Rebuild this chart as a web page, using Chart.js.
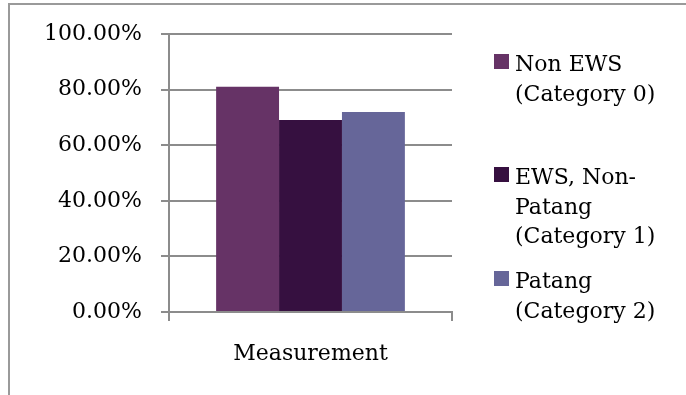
<!DOCTYPE html>
<html>
<head>
<meta charset="utf-8">
<title>Measurement</title>
<script src="https://cdn.jsdelivr.net/npm/chart.js@4.4.1/dist/chart.umd.min.js"></script>
<style>
  html, body { margin: 0; padding: 0; background: #fff; overflow: hidden; }
  #wrap { position: relative; width: 686px; height: 395px; }
  #frame {
    position: absolute; left: 8px; top: 3px; width: 800px; height: 500px;
    border: 2px solid #9a9a9a; box-sizing: border-box;
  }
  #chart { position: absolute; left: 0; top: 0; }
</style>
</head>
<body>
<div id="wrap">
  <div id="frame"></div>
  <canvas id="chart" width="686" height="395"></canvas>
</div>
<script>
// data
const categories = ["Measurement"];
const seriesNames = ["Non EWS (Category 0)", "EWS, Non-Patang (Category 1)", "Patang (Category 2)"];
const legendLines = [
  ["Non EWS", "(Category 0)"],
  ["EWS, Non-", "Patang", "(Category 1)"],
  ["Patang", "(Category 2)"]
];
const nonEws = [81.0];
const ewsNonPatang = [69.1];
const patang = [71.9];
const yTicks = [0, 20, 40, 60, 80, 100];

const colors = ["#663366", "#361040", "#666699"];
const gridColor = "#8c8c8c";
const fontFamily = "'DejaVu Serif', serif";

// legend on the right, text wrapped like the original sheet
const sideLegend = {
  id: "sideLegend",
  afterDraw(chart) {
    const ctx = chart.ctx;
    const tops = [71, 184, 288]; // baseline of the first line of each entry
    ctx.save();
    ctx.font = "22px " + fontFamily;
    ctx.textBaseline = "alphabetic";
    ctx.textAlign = "left";
    chart.data.datasets.forEach((ds, i) => {
      const base = tops[i];
      ctx.fillStyle = ds.backgroundColor;
      ctx.fillRect(494, base - 17, 15, 15);
      ctx.fillStyle = "#000";
      legendLines[i].forEach((line, j) => {
        ctx.fillText(line, 515, base + j * 29.5);
      });
    });
    ctx.restore();
  }
};

const seriesData = [nonEws, ewsNonPatang, patang];

new Chart(document.getElementById("chart"), {
  type: "bar",
  data: {
    labels: categories,
    datasets: seriesNames.map((name, i) => ({
      label: name,
      data: seriesData[i],
      backgroundColor: colors[i],
      categoryPercentage: 0.667,
      barPercentage: 1.0
    }))
  },
  options: {
    responsive: false,
    animation: false,
    layout: { padding: { top: 34, right: 234, left: 0, bottom: 0 } },
    plugins: {
      legend: { display: false },
      tooltip: { enabled: false }
    },
    scales: {
      x: {
        grid: {
          offset: true,
          drawOnChartArea: false,
          color: gridColor,
          lineWidth: 2,
          tickLength: 9
        },
        border: { color: gridColor, width: 2 },
        ticks: { color: "#000", font: { family: fontFamily, size: 22 }, padding: 20 },
        afterFit(scale) { scale.height = 83; }
      },
      y: {
        min: 0,
        max: 100,
        afterBuildTicks(scale) {
          scale.ticks = yTicks.map(v => ({ value: v }));
        },
        grid: { color: gridColor, lineWidth: 2, tickLength: 8 },
        border: { color: gridColor, width: 2 },
        ticks: {
          color: "#000",
          padding: 19,
          font: { family: fontFamily, size: 22 },
          callback: v => v.toFixed(2) + "%"
        },
        afterFit(scale) { scale.width = 169; }
      }
    }
  },
  plugins: [sideLegend]
});
</script>
</body>
</html>
